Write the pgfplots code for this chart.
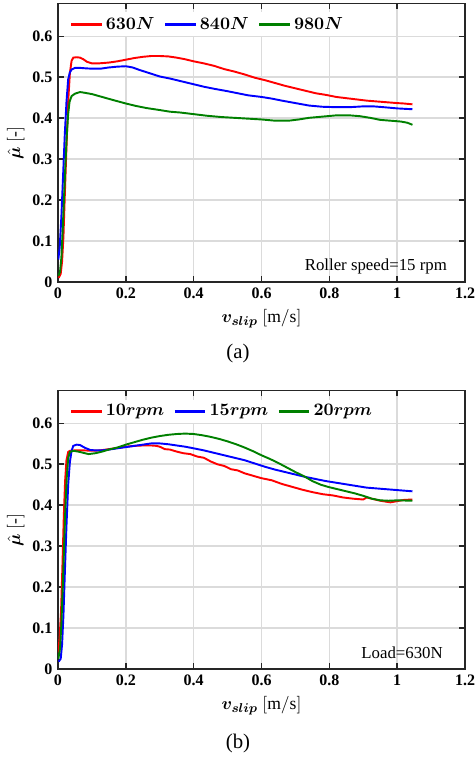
\documentclass[border=0pt]{standalone}
\usepackage{fontspec}
\setmainfont{Liberation Serif}
\usepackage{amsmath}
\usepackage{bm}
\usepackage{pgfplots}
\pgfplotsset{compat=1.18}
\definecolor{mred}{rgb}{1,0,0}
\definecolor{mblue}{rgb}{0,0,1}
\definecolor{mgreen}{rgb}{0,0.5,0}
\pgfplotsset{
  myax/.style={
    scale only axis, width=254.4pt, height=174pt,
    xmin=0, xmax=1.2, ymin=0, ymax=0.68,
    xtick={0,0.2,0.4,0.6,0.8,1,1.2},
    ytick={0,0.1,0.2,0.3,0.4,0.5,0.6},
    tick pos=both, tick align=inside,
    major tick length=3.5pt,
    grid=major,
    major grid style={draw=black!14, line width=1pt},
    axis line style={draw=black!85, line width=1pt},
    tick style={draw=black!85, line width=1pt},
    tick label style={font=\bfseries\fontsize{10}{12}\selectfont},
    /pgf/number format/assume math mode=true,
    xlabel={$\bm{v_{slip}}\ \mathrm{[m/s]}$},
    ylabel={$\hat{\bm{\mu}}\ \mathrm{[}\text{-}\mathrm{]}$},
    label style={font=\fontsize{11}{13}\selectfont},
    ylabel style={yshift=-2pt},
    legend columns=3,
    legend style={draw=none, fill=white, inner sep=1pt,
      font=\fontsize{11}{13}\selectfont,
      /tikz/every even column/.append style={column sep=4pt}},
    legend image code/.code={\draw[#1] (0pt,0pt) -- (19pt,0pt);},
    every axis plot/.append style={line width=1.2pt},
  }
}
\begin{document}
\begin{tikzpicture}
\useasboundingbox (0,0) rectangle (297.5pt,473.125pt);
\begin{axis}[myax, at={(36.25pt,296.875pt)}, anchor=south west, ymax=0.68,
  legend style={at={(0.025,0.925)}, anchor=west}]
\addlegendimage{draw=mred, line width=1.3pt}
\addlegendentry{$\bm{630N}$}
\addlegendimage{draw=mblue, line width=1.3pt}
\addlegendentry{$\bm{840N}$}
\addlegendimage{draw=mgreen, line width=1.3pt}
\addlegendentry{$\bm{980N}$}
\addplot[mred, forget plot] coordinates {
(0.002,0.010)(0.008,0.020)(0.012,0.050)(0.016,0.110)(0.020,0.210)(0.025,0.330)(0.030,0.440)(0.035,0.510)(0.040,0.540)(0.045,0.548)(0.055,0.549)(0.065,0.548)(0.075,0.544)(0.085,0.538)(0.100,0.534)(0.120,0.534)(0.150,0.536)(0.175,0.539)(0.200,0.543)(0.225,0.547)(0.250,0.550)(0.275,0.552)(0.300,0.552)(0.325,0.551)(0.350,0.548)(0.375,0.544)(0.400,0.539)(0.430,0.534)(0.460,0.528)(0.490,0.520)(0.520,0.514)(0.550,0.507)(0.580,0.499)(0.610,0.493)(0.640,0.486)(0.670,0.479)(0.700,0.473)(0.730,0.467)(0.760,0.461)(0.790,0.457)(0.820,0.452)(0.850,0.449)(0.880,0.446)(0.910,0.443)(0.940,0.441)(0.970,0.439)(1.000,0.437)(1.020,0.436)(1.045,0.434)};
\addplot[mblue, forget plot] coordinates {
(0.001,0.055)(0.005,0.085)(0.010,0.160)(0.015,0.260)(0.020,0.360)(0.025,0.440)(0.030,0.495)(0.035,0.512)(0.040,0.519)(0.050,0.523)(0.065,0.523)(0.080,0.522)(0.100,0.521)(0.125,0.521)(0.150,0.524)(0.175,0.526)(0.200,0.527)(0.220,0.524)(0.240,0.518)(0.270,0.510)(0.300,0.502)(0.330,0.497)(0.360,0.491)(0.400,0.483)(0.430,0.477)(0.460,0.472)(0.500,0.466)(0.530,0.461)(0.560,0.456)(0.600,0.452)(0.630,0.448)(0.660,0.443)(0.700,0.437)(0.740,0.431)(0.780,0.428)(0.820,0.427)(0.860,0.427)(0.900,0.429)(0.930,0.429)(0.960,0.427)(1.000,0.424)(1.045,0.422)};
\addplot[mgreen, forget plot] coordinates {
(0.001,0.015)(0.006,0.025)(0.010,0.060)(0.014,0.130)(0.018,0.210)(0.022,0.290)(0.026,0.360)(0.030,0.410)(0.034,0.440)(0.040,0.454)(0.050,0.460)(0.065,0.464)(0.080,0.462)(0.100,0.459)(0.130,0.452)(0.160,0.445)(0.200,0.436)(0.230,0.430)(0.260,0.425)(0.300,0.420)(0.330,0.416)(0.360,0.414)(0.400,0.410)(0.440,0.406)(0.480,0.403)(0.520,0.401)(0.560,0.399)(0.600,0.397)(0.640,0.394)(0.680,0.394)(0.710,0.397)(0.740,0.401)(0.780,0.404)(0.820,0.407)(0.860,0.407)(0.890,0.405)(0.920,0.401)(0.950,0.396)(0.980,0.394)(1.010,0.392)(1.030,0.389)(1.045,0.384)};
\node[anchor=east, font=\fontsize{10.5}{12}\selectfont, inner sep=0pt] at (rel axis cs:0.956,0.057) {Roller speed=15 rpm};
\end{axis}
\begin{axis}[myax, at={(36.25pt,55pt)}, anchor=south west, ymax=0.68,
  legend style={at={(0.025,0.925)}, anchor=west}]
\addlegendimage{draw=mred, line width=1.3pt}
\addlegendentry{$\bm{10rpm}$}
\addlegendimage{draw=mblue, line width=1.3pt}
\addlegendentry{$\bm{15rpm}$}
\addlegendimage{draw=mgreen, line width=1.3pt}
\addlegendentry{$\bm{20rpm}$}
\addplot[mred, forget plot] coordinates {
(0.001,0.040)(0.005,0.080)(0.009,0.140)(0.013,0.250)(0.017,0.370)(0.021,0.460)(0.025,0.510)(0.030,0.530)(0.035,0.533)(0.050,0.534)(0.075,0.534)(0.100,0.533)(0.125,0.534)(0.150,0.537)(0.175,0.540)(0.200,0.543)(0.225,0.545)(0.250,0.546)(0.275,0.546)(0.290,0.545)(0.300,0.543)(0.315,0.537)(0.330,0.536)(0.350,0.531)(0.370,0.527)(0.390,0.525)(0.410,0.519)(0.430,0.516)(0.450,0.507)(0.470,0.500)(0.490,0.496)(0.510,0.488)(0.530,0.485)(0.550,0.478)(0.575,0.472)(0.600,0.466)(0.630,0.461)(0.660,0.452)(0.690,0.445)(0.720,0.438)(0.750,0.432)(0.780,0.427)(0.810,0.424)(0.840,0.419)(0.870,0.416)(0.900,0.414)(0.910,0.419)(0.925,0.416)(0.950,0.411)(0.980,0.407)(1.000,0.410)(1.020,0.413)(1.045,0.414)};
\addplot[mblue, forget plot] coordinates {
(0.002,0.018)(0.008,0.025)(0.012,0.060)(0.016,0.130)(0.020,0.230)(0.025,0.350)(0.030,0.450)(0.035,0.505)(0.040,0.533)(0.045,0.545)(0.055,0.548)(0.065,0.547)(0.080,0.540)(0.095,0.535)(0.110,0.534)(0.130,0.534)(0.150,0.536)(0.175,0.539)(0.200,0.542)(0.225,0.545)(0.250,0.548)(0.275,0.551)(0.300,0.551)(0.325,0.549)(0.350,0.546)(0.375,0.543)(0.400,0.539)(0.430,0.534)(0.460,0.528)(0.490,0.522)(0.520,0.516)(0.550,0.510)(0.580,0.502)(0.610,0.494)(0.640,0.487)(0.670,0.481)(0.700,0.475)(0.730,0.469)(0.760,0.464)(0.790,0.459)(0.820,0.455)(0.850,0.451)(0.880,0.447)(0.910,0.443)(0.940,0.441)(0.970,0.439)(1.000,0.437)(1.045,0.434)};
\addplot[mgreen, forget plot] coordinates {
(0.001,0.025)(0.006,0.050)(0.010,0.110)(0.014,0.200)(0.018,0.300)(0.022,0.400)(0.026,0.470)(0.030,0.515)(0.035,0.530)(0.045,0.533)(0.060,0.531)(0.075,0.528)(0.090,0.525)(0.110,0.527)(0.130,0.531)(0.150,0.536)(0.175,0.541)(0.200,0.548)(0.225,0.554)(0.250,0.560)(0.275,0.565)(0.300,0.569)(0.325,0.572)(0.350,0.574)(0.375,0.575)(0.400,0.574)(0.425,0.571)(0.450,0.567)(0.475,0.562)(0.500,0.556)(0.525,0.549)(0.550,0.541)(0.575,0.532)(0.600,0.522)(0.625,0.513)(0.650,0.503)(0.675,0.492)(0.700,0.481)(0.725,0.471)(0.750,0.459)(0.775,0.450)(0.800,0.444)(0.825,0.439)(0.850,0.434)(0.875,0.429)(0.900,0.423)(0.925,0.416)(0.950,0.412)(0.975,0.411)(1.000,0.412)(1.045,0.411)};
\node[anchor=east, font=\fontsize{10.5}{12}\selectfont, inner sep=0pt] at (rel axis cs:0.946,0.058) {Load=630N};
\end{axis}
\node[font=\fontsize{13}{15}\selectfont] at (148.75pt,251.9pt) {(a)};
\node[font=\fontsize{13}{15}\selectfont] at (148.75pt,8.75pt) {(b)};
\end{tikzpicture}
\end{document}
